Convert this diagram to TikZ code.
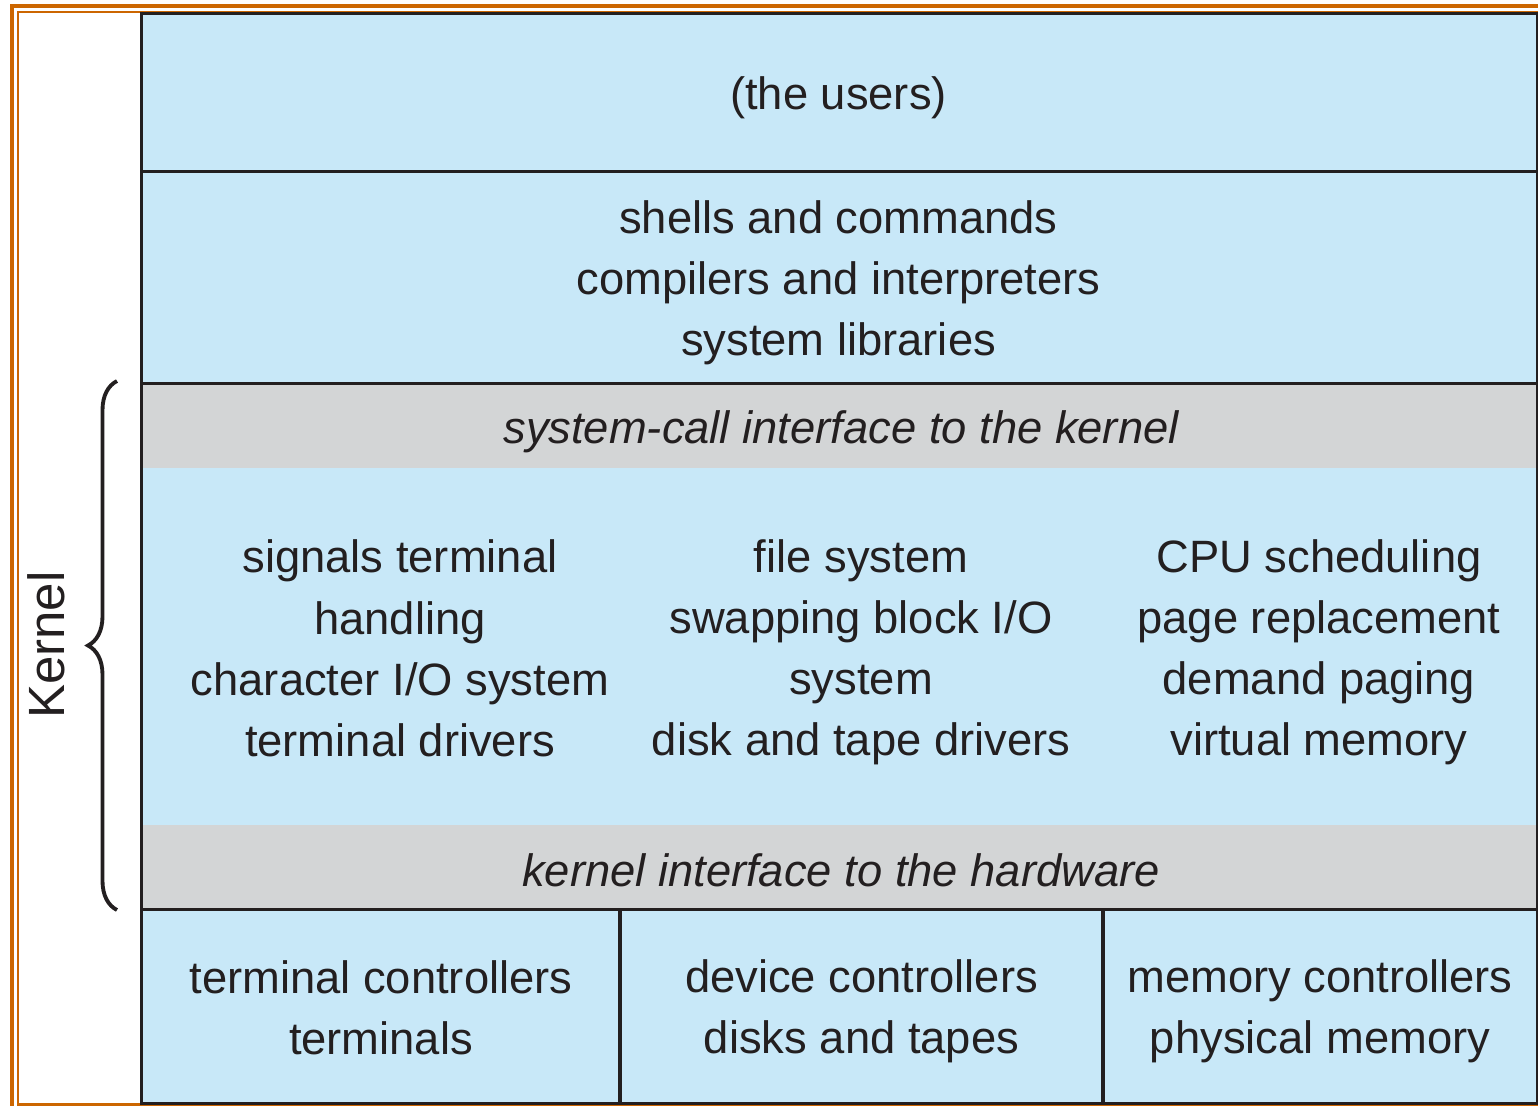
\documentclass[tikz,border=0pt]{standalone}
\usepackage{fontspec}
\setmainfont{Liberation Sans}
\usetikzlibrary{decorations.pathreplacing}
\definecolor{layerblue}{RGB}{200,232,248}
\definecolor{bandgray}{RGB}{211,213,214}
\definecolor{frameorange}{RGB}{204,102,0}
\definecolor{inkdark}{RGB}{35,31,32}
\tikzset{
  layer/.style={rectangle, inner sep=0pt, minimum width=13.95cm, fill=layerblue},
  band/.style={layer, fill=bandgray, minimum height=0.85cm},
  txt/.style={align=center, inner sep=0pt, text=inkdark, font=\fontsize{12.9}{17.4}\selectfont},
  itxt/.style={txt, font=\fontsize{12.9}{17.4}\selectfont\itshape},
  rule/.style={draw=inkdark, line width=0.9pt}
}
\begin{document}
\begin{tikzpicture}
	\useasboundingbox (0,0) rectangle (15.38,-11.05);
	\clip (0,0) rectangle (15.38,-11.05);
	% orange frame
	\draw[frameorange, line width=0.9pt] (0.12,-0.06) rectangle (15.6,-11.3);
	\draw[frameorange, line width=0.8pt] (0.18,-0.12) rectangle (15.5,-11.045);
	% layers
	\node[layer, minimum height=1.57cm] (users) at (8.395,-0.925) {};
	\node[layer, minimum height=2.12cm] (shells) at (8.395,-2.77) {};
	\node[band] (syscall) at (8.395,-4.255) {};
	\node[layer, minimum height=3.57cm] (kern) at (8.395,-6.465) {};
	\node[band] (hwif) at (8.395,-8.675) {};
	\node[layer, minimum height=1.93cm] (hw) at (8.395,-10.065) {};
	% layer texts
	\node[txt] (userstxt) at (8.385,-0.98) {(the users)};
	\node[txt] (shellstxt) at (8.385,-2.83)
		{shells and commands\\compilers and interpreters\\system libraries};
	\node[itxt] (syscalltxt) at (8.41,-4.315) {system-call interface to the kernel};
	\node[itxt] (hwiftxt) at (8.41,-8.70) {kernel interface to the hardware};
	% kernel columns
	\node[txt] (signals) at (4.00,-6.485)
		{signals terminal\\handling\\character I/O system\\terminal drivers};
	\node[txt] (files) at (8.61,-6.525)
		{file system\\swapping block I/O\\system\\disk and tape drivers};
	\node[txt] (cpu) at (13.19,-6.525)
		{CPU scheduling\\page replacement\\demand paging\\virtual memory};
	% hardware columns
	\node[txt] (term) at (3.81,-10.075) {terminal controllers\\terminals};
	\node[txt] (dev) at (8.615,-10.115) {device controllers\\disks and tapes};
	\node[txt] (mem) at (13.20,-10.115) {memory controllers\\physical memory};
	% rules
	\draw[rule] (users.north west) rectangle (hw.south east);
	\draw[rule] (users.south west) -- (users.south east);
	\draw[rule] (shells.south west) -- (shells.south east);
	\draw[rule] (hw.north west) -- (hw.north east);
	\draw[rule] (6.20,-9.10) -- (6.20,-11.03);
	\draw[rule] (11.03,-9.10) -- (11.03,-11.03);
	% kernel brace
	\coordinate (braceLow) at (1.17,-9.10);
	\coordinate (braceHigh) at (1.17,-3.81);
	\draw[inkdark, line width=1.1pt, decorate, decoration={brace, amplitude=0.29cm}]
		(braceLow) -- (braceHigh);
	\node[rotate=90, text=inkdark, font=\fontsize{14.5}{17}\selectfont] (klabel) at (0.46,-6.45) {Kernel};
\end{tikzpicture}
\end{document}
